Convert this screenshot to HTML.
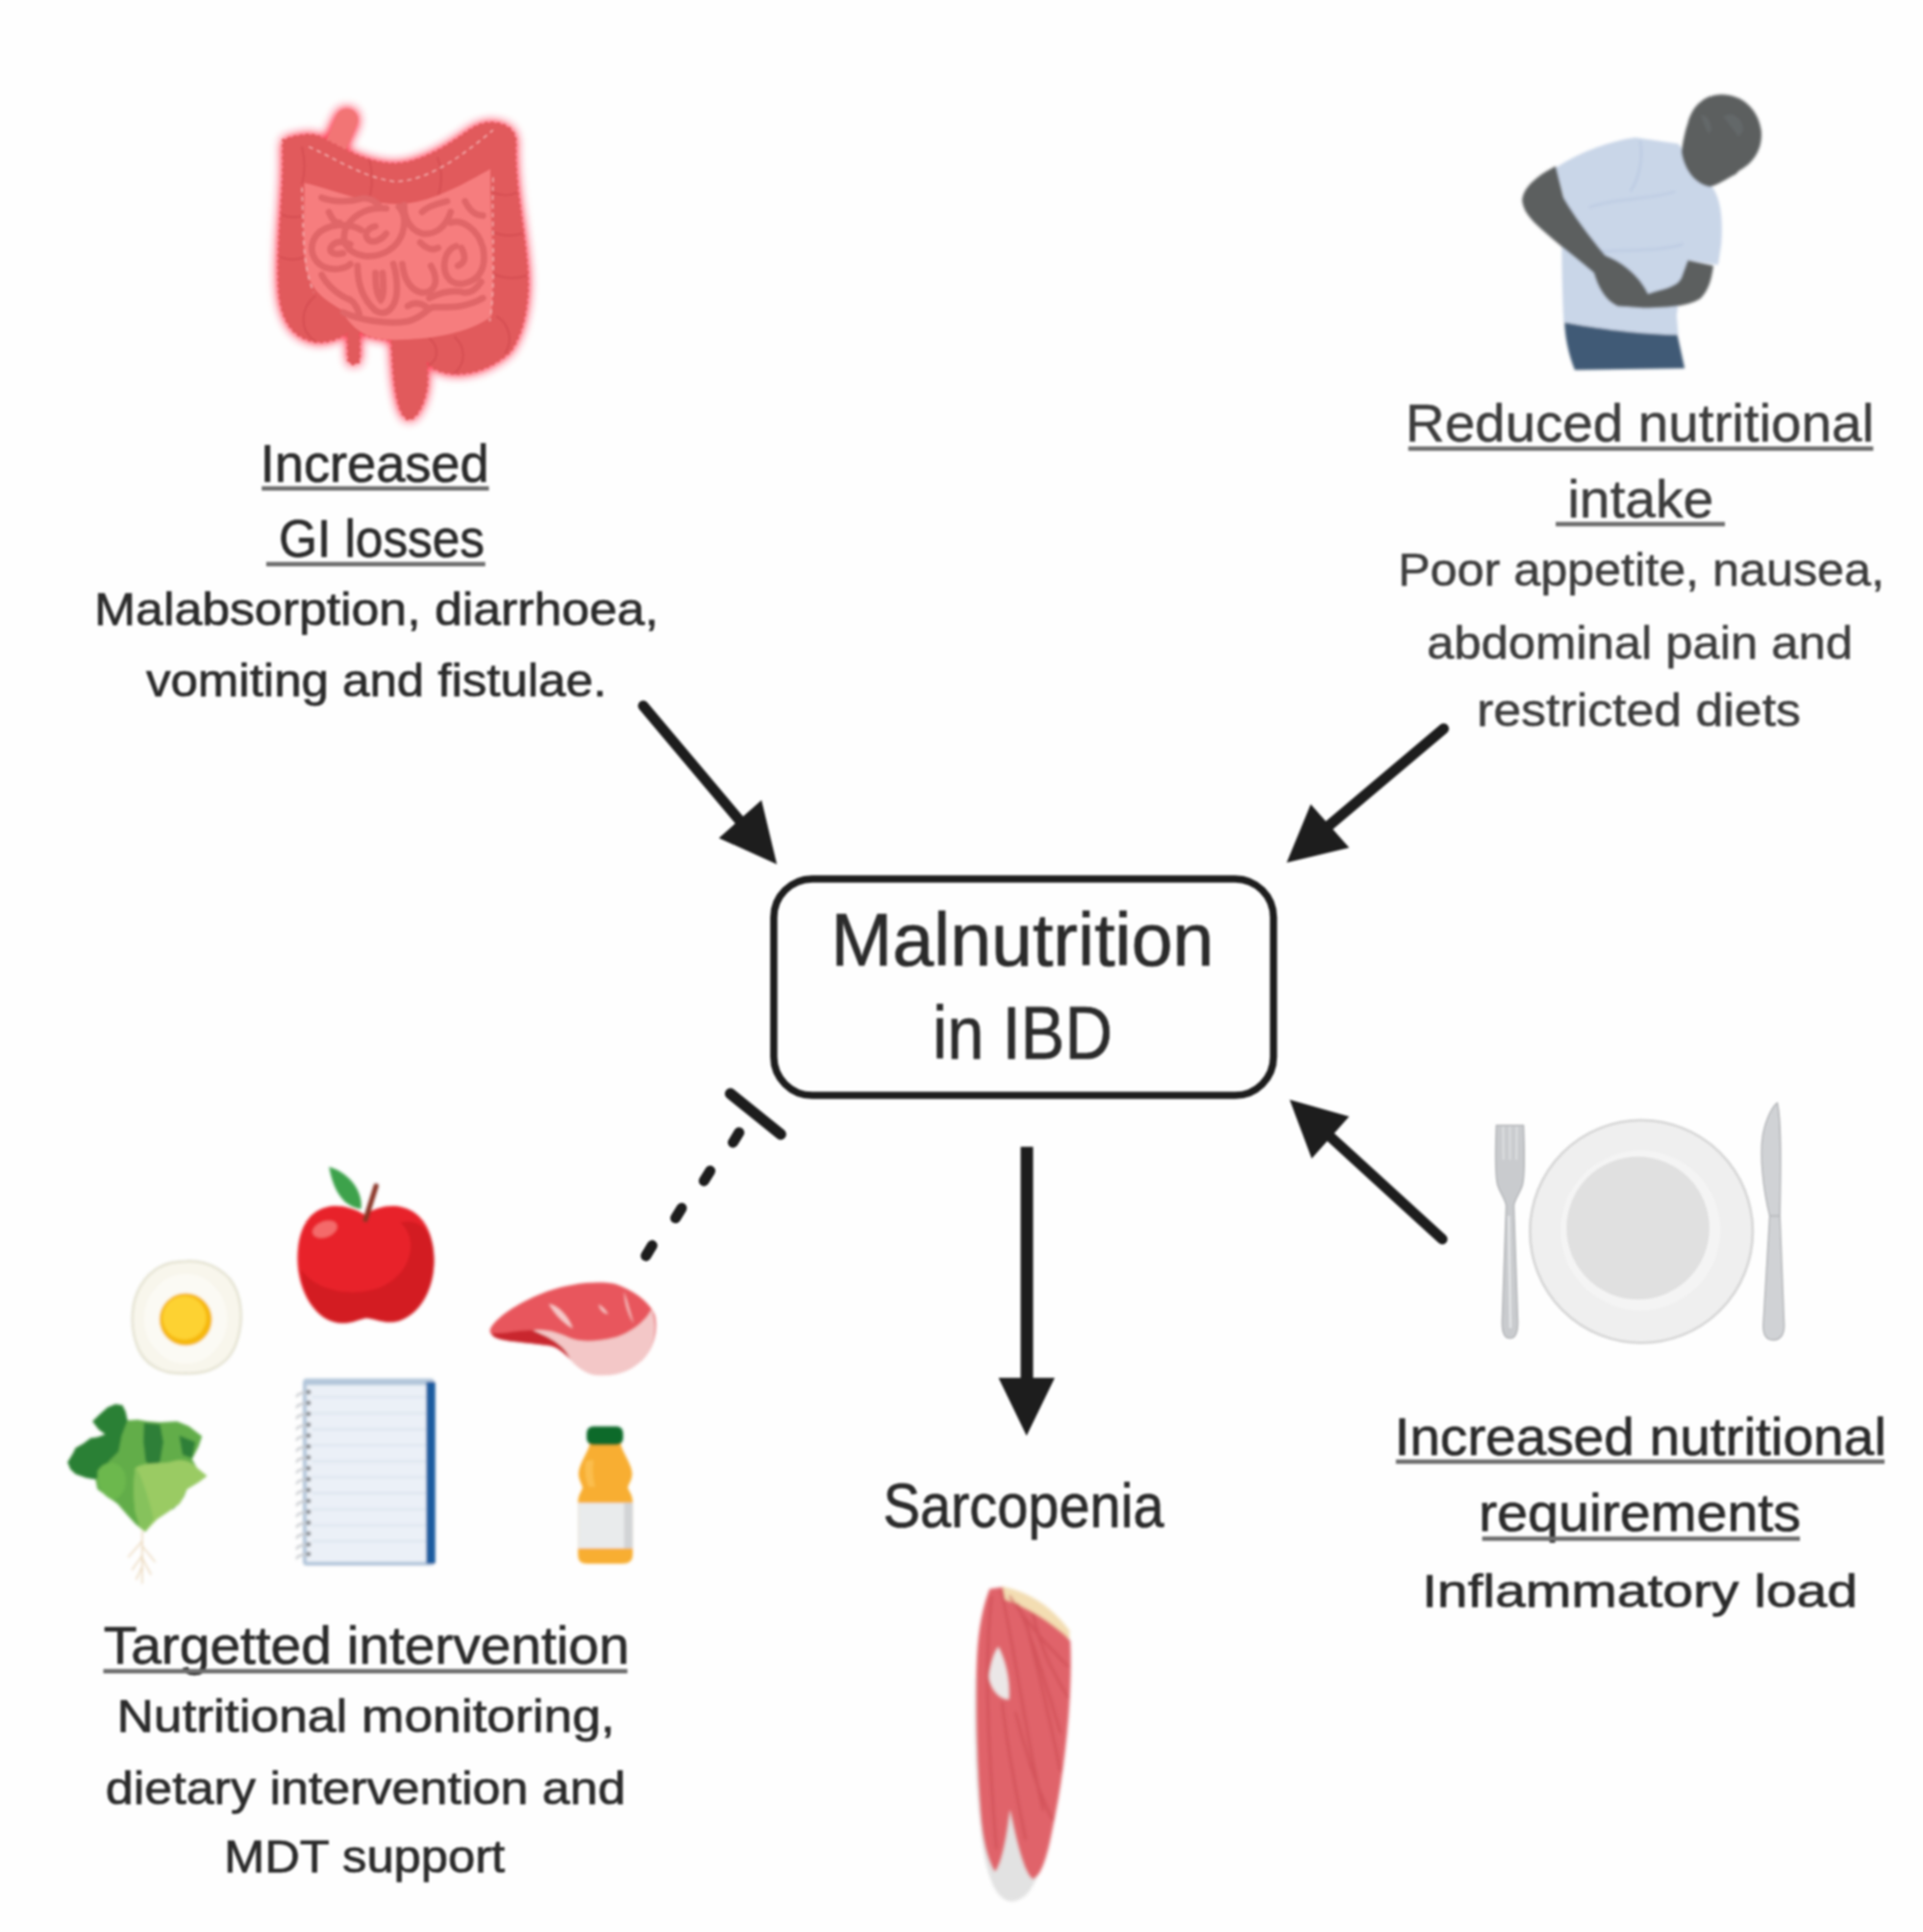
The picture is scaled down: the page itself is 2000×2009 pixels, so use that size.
<!DOCTYPE html>
<html><head><meta charset="utf-8"><style>
html,body{margin:0;padding:0;background:#fefefe;}
svg{display:block;filter:blur(0.9px);}
text{font-family:"Liberation Sans",sans-serif;fill:#2b2b2b;stroke:#2b2b2b;stroke-width:0.7px;}
.ul{fill:#6e6e6e;}
text.lt{fill:#3d3d3d;stroke:#3d3d3d;stroke-width:0.5px;}
</style></head><body>
<svg width="2000" height="2009" viewBox="0 0 2000 2009">
<rect width="2000" height="2009" fill="#fefefe"/>
<g id="diagram" fill="#1d1d1d" stroke="none">
<rect x="804.8" y="913.9" width="519.7" height="225.1" rx="40" ry="40" fill="none" stroke="#1d1d1d" stroke-width="7.5"/>
<!-- arrow 1 -->
<line x1="669" y1="734" x2="775" y2="860" stroke="#1d1d1d" stroke-width="11" stroke-linecap="round"/>
<polygon points="808,898.7 792,832 747.6,871.4"/>
<!-- arrow 2 -->
<line x1="1501.5" y1="757.7" x2="1378" y2="862" stroke="#1d1d1d" stroke-width="11" stroke-linecap="round"/>
<polygon points="1338.2,897 1363.2,836.2 1403.2,881.4"/>
<!-- arrow 3 -->
<line x1="1500" y1="1288.5" x2="1378" y2="1177" stroke="#1d1d1d" stroke-width="11" stroke-linecap="round"/>
<polygon points="1341.3,1143.4 1403.2,1161 1364.2,1204.8"/>
<!-- arrow down -->
<rect x="1061.5" y="1192.5" width="13" height="250" />
<polygon points="1038.5,1432.8 1097,1432.8 1067.7,1493"/>
<!-- inhibit -->
<line x1="759.6" y1="1137.3" x2="812" y2="1179.5" stroke="#1d1d1d" stroke-width="11.5" stroke-linecap="round"/>
<g stroke="#1d1d1d" stroke-width="11" stroke-linecap="round">
<line x1="768.7" y1="1177.7" x2="762.4" y2="1188.0"/>
<line x1="738.6" y1="1217.6" x2="732.2" y2="1227.9"/>
<line x1="708.9" y1="1256.3" x2="702.6" y2="1266.6"/>
<line x1="678.3" y1="1295.1" x2="671.8" y2="1305.9"/>
</g>
</g>
<defs>
<filter id="glow" x="-30%" y="-30%" width="160%" height="160%"><feGaussianBlur stdDeviation="30"/></filter>
<filter id="soft" x="-10%" y="-10%" width="120%" height="120%"><feGaussianBlur stdDeviation="4"/></filter>
<filter id="soft2" x="-10%" y="-10%" width="120%" height="120%"><feGaussianBlur stdDeviation="3.5"/></filter>
<filter id="softm" x="-10%" y="-10%" width="120%" height="120%"><feGaussianBlur stdDeviation="7"/></filter>
</defs>
<!-- ============ INTESTINE ============ -->
<g id="intestine" transform="translate(270,100) scale(0.17597)">
  <g filter="url(#glow)" opacity="1">
    <path fill="#ff2c44" d="M140,260 C210,235 290,220 340,235 C420,270 520,330 600,360 C680,390 740,400 800,400 C950,395 1100,300 1200,230 C1280,170 1330,150 1400,160 C1470,170 1510,210 1513,265 C1500,500 1560,750 1580,1000 C1600,1200 1560,1400 1480,1510 C1400,1580 1300,1640 1150,1640 C1050,1630 1000,1600 990,1560 L990,1700 C980,1800 930,1910 880,1910 C830,1900 800,1750 790,1600 L780,1440 C700,1430 620,1420 590,1390 L590,1560 C580,1590 530,1590 525,1560 L520,1400 C480,1420 420,1460 330,1450 C200,1430 130,1330 115,1150 C100,900 140,600 140,400 C140,320 138,290 140,260 Z"/>
    <path d="M515,140 L435,314" stroke="#ff2c44" stroke-width="130" stroke-linecap="round"/>
  </g>
  <g filter="url(#glow)" opacity="0.7">
    <path fill="#ff2c44" d="M140,260 C210,235 290,220 340,235 C420,270 520,330 600,360 C680,390 740,400 800,400 C950,395 1100,300 1200,230 C1280,170 1330,150 1400,160 C1470,170 1510,210 1513,265 C1500,500 1560,750 1580,1000 C1600,1200 1560,1400 1480,1510 C1400,1580 1300,1640 1150,1640 C1050,1630 1000,1600 990,1560 L990,1700 C980,1800 930,1910 880,1910 C830,1900 800,1750 790,1600 L780,1440 C700,1430 620,1420 590,1390 L590,1560 C580,1590 530,1590 525,1560 L520,1400 C480,1420 420,1460 330,1450 C200,1430 130,1330 115,1150 C100,900 140,600 140,400 C140,320 138,290 140,260 Z"/>
    <path d="M515,140 L435,314" stroke="#ff2c44" stroke-width="130" stroke-linecap="round"/>
  </g>
  <g filter="url(#soft)">
  <path d="M515,140 L435,330" stroke="#f27475" stroke-width="130" stroke-linecap="round"/>
  <path fill="#e15a5c" d="M140,260 C210,235 290,220 340,235 C420,270 520,330 600,360 C680,390 740,400 800,400 C950,395 1100,300 1200,230 C1280,170 1330,150 1400,160 C1470,170 1510,210 1513,265 C1500,500 1560,750 1580,1000 C1600,1200 1560,1400 1480,1510 C1400,1580 1300,1640 1150,1640 C1050,1630 1000,1600 990,1560 L990,1700 C980,1800 930,1910 880,1910 C830,1900 800,1750 790,1600 L780,1440 C700,1430 620,1420 590,1390 L590,1560 C580,1590 530,1590 525,1560 L520,1400 C480,1420 420,1460 330,1450 C200,1430 130,1330 115,1150 C100,900 140,600 140,400 C140,320 138,290 140,260 Z"/>
  <path fill="none" stroke="#e15a5c" stroke-width="18" stroke-linecap="round" stroke-dasharray="0 36" d="M140,260 C210,235 290,220 340,235 C420,270 520,330 600,360 C680,390 740,400 800,400 C950,395 1100,300 1200,230 C1280,170 1330,150 1400,160 C1470,170 1510,210 1513,265 C1500,500 1560,750 1580,1000 C1600,1200 1560,1400 1480,1510 C1400,1580 1300,1640 1150,1640 C1050,1630 1000,1600 990,1560 L990,1700 C980,1800 930,1910 880,1910 C830,1900 800,1750 790,1600 L780,1440 C700,1430 620,1420 590,1390 L590,1560 C580,1590 530,1590 525,1560 L520,1400 C480,1420 420,1460 330,1450 C200,1430 130,1330 115,1150 C100,900 140,600 140,400 C140,320 138,290 140,260 Z"/>
  <g fill="none" stroke="#cf484c" stroke-width="12" opacity="0.6">
    <path d="M330,1180 C240,1250 230,1380 330,1450"/>
    <path d="M1400,1300 C1480,1350 1500,1450 1450,1520"/>
    <path d="M1150,1420 C1220,1480 1220,1580 1150,1640"/>
    <path d="M1000,1430 C1060,1470 1060,1560 1000,1590"/>
    <path d="M1380,1050 C1450,1080 1520,1080 1580,1060"/>
    <path d="M1370,800 C1440,830 1500,830 1560,810"/>
    <path d="M1360,560 C1420,590 1480,590 1520,570"/>
    <path d="M130,700 C180,720 230,720 270,700"/>
    <path d="M120,950 C170,970 220,970 265,950"/>
    <path d="M250,300 C270,380 270,450 250,520"/>
    <path d="M650,380 C670,460 670,560 640,620"/>
    <path d="M1050,360 C1080,430 1080,530 1050,600"/>
  </g>
  <path fill="#f67d7e" d="M264,513 C400,540 600,630 801,637 C1000,640 1200,520 1364,430 C1360,700 1390,1000 1370,1300 C1250,1400 1000,1440 800,1440 C650,1440 560,1400 480,1260 C380,1200 300,1150 270,1000 C250,800 270,650 264,513 Z"/>
  <g transform="translate(-56.83,-56.83) scale(1.0591)">
    <path fill="none" stroke="#e06668" stroke-width="36" stroke-linecap="round" d="M620,800 C560,760 430,760 370,830 C320,900 350,980 420,1010 C480,1030 540,1010 560,990 M560,880 C520,860 470,860 450,900 C440,930 480,940 520,930 M760,680 C680,670 590,700 540,780 C500,860 540,930 640,945 C740,955 820,900 850,820 C870,750 860,700 830,670 M700,780 C660,790 630,820 660,855 C690,880 740,850 760,820 M860,660 C860,730 890,800 960,820 C1030,830 1090,790 1120,700 M1120,760 C1180,740 1270,790 1300,900 C1320,1000 1290,1080 1190,1100 C1110,1110 1070,1040 1090,960 C1100,920 1120,900 1150,890 M1180,900 C1200,940 1210,980 1160,1000 M600,1000 C600,1080 620,1180 700,1250 C760,1290 820,1230 820,1130 C820,1060 810,1020 800,990 M700,1040 C700,1110 710,1170 730,1190 C750,1170 745,1100 740,1040 M850,990 C860,1080 900,1140 960,1150 C1030,1150 1060,1090 1010,1000 M520,1260 C600,1300 760,1330 880,1310 C960,1290 990,1240 1020,1230 C1100,1230 1200,1240 1300,1180 M880,1225 C910,1205 950,1200 990,1235 M950,870 C980,900 1010,920 1050,900 M400,1050 C430,1110 500,1170 560,1190 C590,1210 600,1240 610,1270 M1000,1180 C1060,1150 1130,1130 1200,1150 C1240,1150 1270,1120 1290,1090 M400,620 C450,640 540,650 620,625 C660,615 700,640 720,665 M960,700 C1000,660 1060,650 1100,640 M1200,640 C1230,700 1260,720 1300,720 M440,700 C460,740 470,760 500,760"/>
  </g>
  <g fill="none" stroke="#f4b5b5" stroke-width="10" stroke-dasharray="28 24" opacity="0.85">
    <path d="M290,300 C420,350 600,480 801,505 C1000,500 1200,350 1380,200"/>
    <path d="M250,540 C260,800 250,1000 320,1160"/>
    <path d="M1380,480 C1370,800 1400,1100 1360,1330"/>
  </g>
  </g>
</g>
<!-- ============ MAN ============ -->
<g id="man" transform="translate(1560,80) scale(0.16562)" filter="url(#softm)">
  <path fill="#3f5a76" d="M405,1540 C600,1580 900,1610 1110,1600 L1160,1830 L470,1840 C430,1740 410,1640 405,1540 Z"/>
  <path fill="#c9d6e8" d="M350,570 C500,470 700,400 850,380 L1120,420 C1200,520 1300,650 1340,700 C1390,780 1400,900 1390,1050 L1370,1180 L1180,1150 C1150,1250 1120,1400 1110,1500 L1120,1620 C900,1620 600,1580 400,1540 C390,1300 380,1000 400,750 Z"/>
  <path fill="none" stroke="#bccbe2" stroke-width="14" d="M880,400 C900,500 880,620 820,720 M560,820 C700,760 900,780 1100,720 M600,1100 C800,1080 1000,1100 1150,1050"/>
  <path fill="#5b5e5f" d="M1320,690 C1240,680 1160,600 1140,470 C1150,400 1165,330 1180,290 C1210,170 1300,110 1390,110 C1520,110 1620,200 1640,330 C1655,440 1600,540 1500,590 L1480,612 C1420,640 1370,680 1320,690 Z"/>
  <path fill="#666a6b" opacity="0.8" d="M1260,240 C1290,230 1320,260 1330,330 L1310,360 C1290,320 1270,280 1260,240 Z M1400,250 C1450,210 1520,250 1530,330 L1500,380 C1470,330 1430,290 1400,250 Z"/>
  <path fill="#5b5e5f" d="M350,560 L400,760 C470,880 560,1000 660,1120 C760,1160 850,1230 900,1310 C940,1370 960,1420 900,1440 L740,1440 C660,1400 620,1330 590,1230 C500,1150 400,1080 300,990 C220,920 150,860 140,780 C140,700 230,620 350,560 Z"/>
  <path fill="#5b5e5f" d="M1180,1150 L1340,1185 C1330,1270 1310,1340 1260,1390 C1200,1430 1100,1450 900,1450 L760,1440 C850,1390 930,1360 1000,1340 C1080,1320 1120,1300 1140,1260 Z"/>
</g>
<!-- ============ FOOD ============ -->
<g id="food" transform="translate(60,1200) scale(0.33281)">
 <g filter="url(#soft2)">
  <!-- egg -->
  <path fill="#f8f6ec" stroke="#dedcc8" stroke-width="6" d="M400,335 C470,330 540,370 560,430 C585,500 570,560 555,600 C530,660 470,690 400,685 C330,690 265,660 245,590 C225,530 230,460 260,410 C290,360 340,335 400,335 Z"/>
  <ellipse cx="400" cy="515" rx="130" ry="140" fill="#fbfaf4"/>
  <circle cx="400" cy="517" r="82" fill="#f6b80f"/>
  <circle cx="396" cy="512" r="68" fill="#fdd232"/>
  <!-- apple -->
  <path fill="#e8232a" d="M960,190 C880,140 770,150 752,285 C735,410 800,525 885,528 C925,528 945,515 965,512 C995,515 1025,532 1065,522 C1150,495 1190,385 1172,285 C1150,150 1030,140 960,190 Z"/>
  <path fill="#cf1b22" d="M1070,215 C1130,260 1110,380 1000,420 C900,450 800,420 760,360 C770,460 820,525 885,528 C925,528 945,515 965,512 C995,515 1025,532 1065,522 C1150,495 1190,385 1172,285 C1160,230 1120,200 1070,215 Z" opacity="0.85"/>
  <ellipse cx="835" cy="235" rx="40" ry="25" fill="#f46a6a" transform="rotate(-20 835 235)"/>
  <path fill="#3ea24c" d="M848,40 C860,110 890,165 948,172 C955,120 915,60 848,40 Z"/>
  <path d="M962,205 L995,100" stroke="#8a3526" stroke-width="16" stroke-linecap="round"/>
  <!-- meat -->
  <path fill="#e8575d" d="M1352,545 C1380,500 1450,460 1530,429 C1600,405 1680,395 1738,405 C1790,420 1850,460 1866,503 C1875,540 1870,600 1827,643 C1790,675 1760,690 1700,690 C1660,692 1630,670 1604,643 C1580,620 1560,600 1530,598 C1480,590 1430,588 1400,582 C1370,578 1345,565 1352,545 Z"/>
  <path fill="#c9282f" d="M1358,560 C1400,562 1450,548 1485,551 C1530,556 1575,566 1604,600 L1606,645 C1580,620 1560,600 1530,598 C1480,590 1430,588 1400,582 C1375,578 1356,572 1358,560 Z"/>
  <path fill="#f3c7c7" d="M1485,551 C1530,545 1570,560 1600,575 C1640,590 1690,585 1738,574 C1790,560 1840,520 1855,485 C1872,520 1874,600 1827,643 C1790,675 1760,692 1700,692 C1660,694 1630,672 1604,645 C1590,610 1560,580 1485,551 Z"/>
  <path fill="#f6c9c9" d="M1535,468 C1565,475 1595,505 1610,545 C1590,535 1555,505 1535,468 Z M1690,470 C1700,475 1715,490 1720,500 C1705,498 1695,485 1690,470 Z M1770,430 C1780,460 1790,500 1800,530 C1785,505 1772,470 1770,430 Z"/>
  <!-- notebook -->
  <rect x="772" y="708" width="400" height="572" fill="#ebf0f7" stroke="#b3c6da" stroke-width="12" rx="6"/>
  <rect x="772" y="702" width="400" height="20" fill="#b3c6da"/>
  <g stroke="#dde6f0" stroke-width="7">
   <line x1="795" y1="760" x2="1150" y2="760"/><line x1="795" y1="810" x2="1150" y2="810"/><line x1="795" y1="860" x2="1150" y2="860"/>
   <line x1="795" y1="910" x2="1150" y2="910"/><line x1="795" y1="960" x2="1150" y2="960"/><line x1="795" y1="1010" x2="1150" y2="1010"/>
   <line x1="795" y1="1060" x2="1150" y2="1060"/><line x1="795" y1="1110" x2="1150" y2="1110"/><line x1="795" y1="1160" x2="1150" y2="1160"/><line x1="795" y1="1210" x2="1150" y2="1210"/>
  </g>
  <rect x="1152" y="712" width="28" height="568" fill="#1a5c9f" rx="4"/>
  <g fill="none" stroke="#c9ccd0" stroke-width="7">
   <path d="M790,744 C760,744 745,752 748,760 M790,778 C760,778 745,786 748,794 M790,812 C760,812 745,820 748,828 M790,846 C760,846 745,854 748,862 M790,880 C760,880 745,888 748,896 M790,914 C760,914 745,922 748,930 M790,948 C760,948 745,956 748,964 M790,982 C760,982 745,990 748,998 M790,1016 C760,1016 745,1024 748,1032 M790,1050 C760,1050 745,1058 748,1066 M790,1084 C760,1084 745,1092 748,1100 M790,1118 C760,1118 745,1126 748,1134 M790,1152 C760,1152 745,1160 748,1168 M790,1186 C760,1186 745,1194 748,1202 M790,1220 C760,1220 745,1228 748,1236 M790,1250 C760,1250 745,1258 748,1266"/>
  </g>
  <g fill="#7c7f83">
   <circle cx="784" cy="744" r="7"/><circle cx="784" cy="778" r="7"/><circle cx="784" cy="812" r="7"/><circle cx="784" cy="846" r="7"/><circle cx="784" cy="880" r="7"/><circle cx="784" cy="914" r="7"/><circle cx="784" cy="948" r="7"/><circle cx="784" cy="982" r="7"/>
   <circle cx="784" cy="1016" r="7"/><circle cx="784" cy="1050" r="7"/><circle cx="784" cy="1084" r="7"/><circle cx="784" cy="1118" r="7"/><circle cx="784" cy="1152" r="7"/><circle cx="784" cy="1186" r="7"/><circle cx="784" cy="1220" r="7"/><circle cx="784" cy="1250" r="7"/>
  </g>
  <!-- lettuce -->
  <path fill="#62ad4a" d="M31,963 L48,935 L56,919 L80,905 L103,888 L125,885 L149,876 L128,860 L109,835 L130,815 L156,792 L180,782 L202,785 L212,805 L218,832 L250,830 L280,835 L320,838 L373,835 L410,850 L451,882 L440,915 L420,953 L435,981 L466,1006 L440,1025 L404,1047 L395,1070 L380,1093 L345,1118 L311,1140 L290,1160 L274,1180 L258,1168 L243,1156 L215,1125 L187,1093 L155,1070 L124,1047 L118,1016 L90,1012 L56,1000 L40,985 Z"/>
  <path fill="#2c8034" d="M31,963 L48,935 L56,919 L80,905 L103,888 L125,885 L149,876 L128,860 L109,835 L130,815 L156,792 L180,782 L202,785 L212,805 L218,832 L200,880 L190,930 L160,960 L140,1000 L118,1016 L90,1012 L56,1000 L40,985 Z"/>
  <path fill="#2e7f38" d="M270,840 L320,845 L330,900 L320,960 L300,985 L275,960 L268,900 Z M380,880 L430,900 L420,950 L390,940 Z M340,1060 L380,1090 L360,1110 L335,1100 Z"/>
  <path fill="#6cb84e" d="M125,990 C150,950 200,960 210,1000 C220,1040 200,1080 170,1080 C140,1070 120,1030 125,990 Z"/>
  <path fill="#9acb63" d="M243,980 C280,960 330,970 360,960 C390,950 420,960 440,985 L466,1006 L440,1025 L404,1047 L380,1093 L345,1118 L311,1140 L274,1180 L258,1168 L243,1120 C235,1060 238,1010 243,980 Z"/>
  <path fill="#86c25c" d="M243,980 C260,1000 280,1060 300,1140 L274,1180 L258,1168 L243,1120 C235,1060 238,1010 243,980 Z"/>
  <path fill="none" stroke="#e8d2b2" stroke-width="4" d="M264,1178 L264,1342 M264,1210 L220,1260 M264,1225 L305,1275 M264,1255 L232,1300 M264,1262 L292,1315 M264,1290 L245,1330"/>
  <!-- bottle -->
  <path fill="#f8ae30" d="M1664,900 L1758,900 C1762,930 1790,960 1795,995 C1797,1020 1780,1035 1782,1045 C1790,1060 1797,1070 1797,1090 L1797,1250 C1797,1272 1785,1280 1765,1280 L1655,1280 C1635,1280 1626,1272 1626,1250 L1626,1090 C1626,1070 1633,1060 1640,1045 C1642,1035 1626,1020 1628,995 C1632,960 1660,930 1664,900 Z"/>
  <path fill="#fcc45a" d="M1650,960 C1645,990 1650,1020 1660,1040 L1680,1040 C1672,1010 1670,985 1675,955 Z" opacity="0.7"/>
  <rect x="1626" y="1090" width="171" height="142" fill="#e9ebec"/>
  <rect x="1770" y="1090" width="27" height="142" fill="#d2d4d6"/>
  <rect x="1653" y="851" width="114" height="58" rx="20" fill="#0b6a2c"/>
 </g>
</g>
<!-- ============ PLATE ============ -->
<g id="plate" transform="translate(1540,1130) scale(0.1768)" filter="url(#soft)">
  <circle cx="945" cy="852" r="655" fill="#efefef" stroke="#d8d8d8" stroke-width="16"/>
  <circle cx="940" cy="845" r="470" fill="#f4f4f4"/>
  <circle cx="925" cy="832" r="420" fill="#e0e0e0"/>
  <!-- fork -->
  <path fill="#c9cbce" stroke="#b3b5b8" stroke-width="8" d="M92,228 L252,228 C258,380 262,520 245,580 C230,630 200,660 195,700 L218,1380 C220,1450 202,1480 172,1480 C142,1480 124,1450 126,1380 L150,700 C145,660 115,630 100,580 C84,520 86,380 92,228 Z"/>
  <path fill="none" stroke="#dcdee0" stroke-width="12" d="M132,235 L134,430 M172,235 L172,430 M212,235 L210,430"/>
  <path fill="none" stroke="#e4e6e8" stroke-width="14" d="M165,760 L175,1420"/>
  <!-- knife -->
  <path fill="#d0d2d5" stroke="#b5b7ba" stroke-width="8" d="M1745,95 C1770,200 1765,500 1760,760 L1785,1400 C1788,1460 1760,1490 1720,1490 C1680,1490 1660,1460 1662,1400 L1700,760 C1660,600 1640,400 1660,280 C1680,180 1720,110 1745,95 Z"/>
  <path fill="none" stroke="#b9bbbe" stroke-width="10" d="M1700,760 L1760,760"/>
</g>
<!-- ============ MUSCLE ============ -->
<g id="muscle" transform="translate(990,1620) scale(0.2013)" filter="url(#softm)">
  <path fill="#e2e2e2" d="M140,1250 C150,1550 200,1770 310,1775 C420,1770 470,1600 500,1400 Z"/>
  <path fill="#e8e6e6" d="M120,620 C110,900 120,1200 150,1400 L190,1400 C170,1100 160,800 170,600 Z"/>
  <path fill="#e0636a" d="M195,160 L265,150 C400,200 520,300 612,430 C625,700 585,1100 520,1400 C490,1560 460,1640 420,1660 C380,1640 340,1500 300,1300 C280,1500 240,1620 220,1620 C180,1550 160,1450 150,1350 C125,1050 120,700 130,500 C140,350 160,250 195,160 Z"/>
  <path fill="#f3ddb2" d="M262,148 C400,175 520,255 608,375 L608,420 C510,330 390,255 275,215 Z"/>
  <path fill="#ebe7e7" d="M240,460 C275,530 300,620 295,730 C255,735 205,690 190,615 C200,545 218,490 240,460 Z"/>
  <g fill="none" stroke="#c9474e" stroke-width="14" opacity="0.55" stroke-linecap="round">
    <path d="M255,170 C330,500 380,900 470,1300"/>
    <path d="M300,200 C420,380 520,480 600,560"/>
    <path d="M340,240 C420,420 500,700 560,900"/>
    <path d="M205,200 C170,500 180,900 230,1500"/>
    <path d="M420,290 C460,500 560,650 600,720"/>
    <path d="M330,800 C380,1000 440,1200 520,1350"/>
    <path d="M380,320 C450,600 520,900 560,1100"/>
    <path d="M260,750 C290,1000 330,1200 380,1450"/>
  </g>
</g>

<g id="texts">
<text x="270.8" y="500.7" font-size="55" textLength="237.8" lengthAdjust="spacingAndGlyphs">Increased</text>
<rect class="ul" x="272.2" y="505.6" width="236.3" height="4.6"/>
<text x="290.0" y="579.1" font-size="55" textLength="214.0" lengthAdjust="spacingAndGlyphs">GI losses</text>
<rect class="ul" x="276.9" y="584.3" width="227.8" height="4.6"/>
<text x="98.0" y="650.2" font-size="48" textLength="587.0" lengthAdjust="spacingAndGlyphs">Malabsorption, diarrhoea,</text>
<text x="152.0" y="724.4" font-size="48" textLength="479.0" lengthAdjust="spacingAndGlyphs">vomiting and fistulae.</text>
<text class="lt" x="1461.8" y="459.0" font-size="55" textLength="487.2" lengthAdjust="spacingAndGlyphs">Reduced nutritional</text>
<rect class="ul" x="1464.7" y="464.2" width="483.6" height="4.6"/>
<text class="lt" x="1630.2" y="538.0" font-size="55" textLength="152.0" lengthAdjust="spacingAndGlyphs">intake</text>
<rect class="ul" x="1618.0" y="542.7" width="176.0" height="4.6"/>
<text class="lt" x="1454.0" y="609.0" font-size="48" textLength="506.0" lengthAdjust="spacingAndGlyphs">Poor appetite, nausea,</text>
<text class="lt" x="1484.0" y="685.0" font-size="48" textLength="443.0" lengthAdjust="spacingAndGlyphs">abdominal pain and</text>
<text class="lt" x="1536.0" y="755.0" font-size="48" textLength="337.0" lengthAdjust="spacingAndGlyphs">restricted diets</text>
<text x="864.0" y="1004.0" font-size="77" textLength="398.4" lengthAdjust="spacingAndGlyphs">Malnutrition</text>
<text x="970.0" y="1101.0" font-size="77" textLength="187.0" lengthAdjust="spacingAndGlyphs">in IBD</text>
<text x="918.4" y="1587.6" font-size="64" textLength="292.2" lengthAdjust="spacingAndGlyphs">Sarcopenia</text>
<text x="107.8" y="1730.0" font-size="55" textLength="546.8" lengthAdjust="spacingAndGlyphs">Targetted intervention</text>
<rect class="ul" x="107.5" y="1735.5" width="545.0" height="4.6"/>
<text x="121.4" y="1801.0" font-size="48" textLength="518.2" lengthAdjust="spacingAndGlyphs">Nutritional monitoring,</text>
<text x="109.8" y="1875.7" font-size="48" textLength="540.8" lengthAdjust="spacingAndGlyphs">dietary intervention and</text>
<text x="233.0" y="1947.0" font-size="48" textLength="292.2" lengthAdjust="spacingAndGlyphs">MDT support</text>
<text x="1450.4" y="1512.6" font-size="55" textLength="511.4" lengthAdjust="spacingAndGlyphs">Increased nutritional</text>
<rect class="ul" x="1451.8" y="1517.6" width="508.2" height="4.6"/>
<text x="1538.0" y="1592.0" font-size="55" textLength="335.0" lengthAdjust="spacingAndGlyphs">requirements</text>
<rect class="ul" x="1541.5" y="1597.7" width="330.5" height="4.6"/>
<text x="1479.0" y="1671.3" font-size="48" textLength="453.0" lengthAdjust="spacingAndGlyphs">Inflammatory load</text>
</g>
</svg>
</body></html>
